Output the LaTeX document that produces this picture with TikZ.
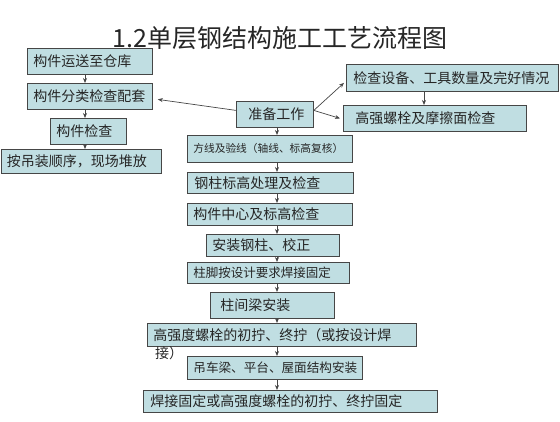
\documentclass[tikz,border=0pt]{standalone}
\usepackage{fontspec}
\setmainfont{Noto Sans CJK SC}
\usetikzlibrary{arrows.meta,positioning}
\definecolor{boxfill}{RGB}{192,222,226}
\definecolor{boxline}{RGB}{70,70,70}
\begin{document}
\begin{tikzpicture}[
  x=1pt, y=-1pt,
  every node/.style={
    font=\fontsize{14}{17}\selectfont, text=black!85
  },
  box/.style 2 args={
    draw=boxline, fill=boxfill, line width=0.8pt,
    anchor=north west, inner xsep=6pt, inner ysep=0pt,
    align=left, text width=#1, minimum height=#2
  },
  arr/.style={
    draw=boxline, line width=0.7pt,
    -{Stealth[length=5pt,width=4pt]}
  }
  ]
  \useasboundingbox (0,0) rectangle (560,422);
  \node (title) [font=\fontsize{25}{30}\selectfont] at (280,38) {1.2单层钢结构施工工艺流程图};
  \node (a1) [box={113pt}{26pt}] at (27,48) {构件运送至仓库};
  \node (a2) [box={113pt}{26pt}] at (27,83) {构件分类检查配套};
  \node (a3) [box={64pt}{26pt}] at (50,118) {构件检查};
  \node (a4) [box={148pt}{24pt}] at (0.5,149) {按吊装顺序，现场堆放};
  \node (b0) [box={65pt}{26pt}] at (236,101) {\hspace*{6pt}准备工作};
  \node (c1) [box={200pt}{27pt}] at (346,64) {\hspace*{1pt}检查设备、工具数量及完好情况};
  \node (c2) [box={171pt}{26pt}] at (343,105) {\hspace*{6pt}高强螺栓及摩擦面检查};
  \node (m1) [box={153pt}{27pt}, font=\fontsize{10.7}{13}\selectfont] at (187,135) {方线及验线（轴线、标高复核）};
  \node (m2) [box={154pt}{21pt}] at (187,172) {\hspace*{1pt}钢柱标高处理及检查};
  \node (m3) [box={153pt}{22pt}] at (187,203) {构件中心及标高检查};
  \node (m4) [box={121pt}{22pt}] at (206,234) {安装钢柱、校正};
  \node (m5) [box={150pt}{21pt}, font=\fontsize{12.5}{15}\selectfont] at (187,262) {柱脚按设计要求焊接固定};
  \node (m6) [box={112pt}{26pt}] at (210,292) {\hspace*{4pt}柱间梁安装};
  \node (m7) [box={257pt}{23pt}] at (147,323) {高强度螺栓的初拧、终拧（或按设计焊};
  \node (m7b) [anchor=north west, inner sep=0pt] at ([xshift=8pt]m7.south west) {接）};
  \node (m8) [box={163pt}{23pt}, font=\fontsize{12.6}{15}\selectfont] at (187,356) {吊车梁、平台、屋面结构安装};
  \node (m9) [box={282pt}{22pt}] at (143,390) {\hspace*{1pt}焊接固定或高强度螺栓的初拧、终拧固定};
  \coordinate (lx) at (85,0);
  \coordinate (sx) at (277,0);
  \coordinate (cx) at (424,0);
  \foreach \u/\v in {a1/a2, a2/a3, a3/a4}
    \draw[arr] (\u.south -| lx) -- (\v.north -| lx);
  \foreach \u/\v in {b0/m1, m1/m2, m2/m3, m3/m4, m4/m5, m5/m6, m6/m7, m7/m8, m8/m9}
    \draw[arr] (\u.south -| sx) -- (\v.north -| sx);
  \draw[arr] (c1.south -| cx) -- (c2.north -| cx);
  \draw[arr] ([yshift=4pt]b0.west) -- ([xshift=5pt,yshift=-3pt]a2.east);
  \draw[arr] ([yshift=4pt]b0.east) -- ([xshift=-2pt,yshift=-5pt]c1.west);
  \draw[arr] ([yshift=4pt]b0.east) -- ([xshift=-3pt]c2.west);
\end{tikzpicture}
\end{document}
